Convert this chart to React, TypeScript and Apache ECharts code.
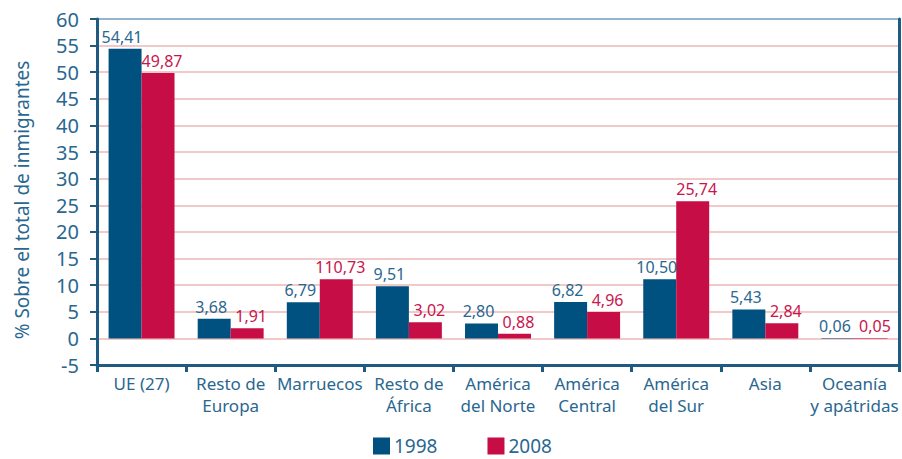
import React, { useEffect, useRef } from "react";
import * as echarts from "echarts";

const categories = [
  "UE (27)",
  "Resto de\nEuropa",
  "Marruecos",
  "Resto de\nÁfrica",
  "América\ndel Norte",
  "América\nCentral",
  "América\ndel Sur",
  "Asia",
  "Oceanía\ny apátridas",
];
const seriesNames = ["1998", "2008"];
// bar heights as drawn in the picture
const values1998 = [54.41, 3.68, 6.79, 9.8, 2.8, 6.82, 11.1, 5.43, 0.06];
const values2008 = [49.87, 1.91, 11.1, 3.02, 0.88, 4.96, 25.74, 2.84, 0.05];
// printed labels
const labels1998 = ["54,41", "3,68", "6,79", "9,51", "2,80", "6,82", "10,50", "5,43", "0,06"];
const labels2008 = ["49,87", "1,91", "110,73", "3,02", "0,88", "4,96", "25,74", "2,84", "0,05"];
const yTicks = { min: -5, max: 60, interval: 5 };

const BLUE = "#00517f";
const RED = "#c70d45";
const TEXT_BLUE = "#2a6790";
const FONT = "Noto Sans";

export default function App() {
  const ref = useRef<HTMLDivElement>(null);
  useEffect(() => {
    if (!ref.current) return;
    const chart = echarts.init(ref.current, undefined, { renderer: "svg" });
    const nLines = (yTicks.max - yTicks.min) / yTicks.interval + 1;
    const gridColors = Array.from({ length: nLines }, (_, i) =>
      i === nLines - 1 ? "#93b5d0" : "#f1c9c9"
    );
    chart.setOption({
      animation: false,
      textStyle: { fontFamily: FONT },
      grid: { left: 97, right: 3, top: 19, bottom: 94 },
      legend: {
        top: 434,
        left: 373,
        padding: 0,
        itemWidth: 17,
        itemHeight: 17,
        itemGap: 50,
        icon: "rect",
        textStyle: { fontSize: 19, lineHeight: 24, color: TEXT_BLUE, fontFamily: FONT, padding: [0, 0, 0, -1] },
        data: seriesNames,
      },
      xAxis: {
        type: "category",
        data: categories,
        axisLine: { onZero: false, lineStyle: { color: "#1f5a80", width: 3 } },
        axisTick: { show: true, length: 7, lineStyle: { color: "#1f5a80", width: 3 } },
        axisLabel: {
          color: TEXT_BLUE,
          fontSize: 17,
          lineHeight: 22,
          margin: 7,
          interval: 0,
          fontFamily: FONT,
        },
      },
      yAxis: [
        {
          type: "value",
          min: yTicks.min,
          max: yTicks.max,
          interval: yTicks.interval,
          name: "% Sobre el total de inmigrantes",
          nameLocation: "middle",
          nameGap: 66,
          nameTextStyle: { color: TEXT_BLUE, fontSize: 19, fontFamily: FONT, padding: [0, 16, 0, 0] },
          axisLine: { show: true, lineStyle: { color: "#1f5a80", width: 3 } },
          axisTick: { show: true, length: 7, lineStyle: { color: "#1f5a80", width: 2 } },
          axisLabel: { color: TEXT_BLUE, fontSize: 20, margin: 18, fontFamily: FONT },
          splitLine: { show: true, lineStyle: { color: gridColors, width: 2 } },
        },
        {
          type: "value",
          min: yTicks.min,
          max: yTicks.max,
          interval: yTicks.interval,
          position: "right",
          axisLine: { show: true, lineStyle: { color: "#1f5a80", width: 3 } },
          axisTick: { show: false },
          axisLabel: { show: false },
          splitLine: { show: false },
        },
      ],
      series: [
        {
          name: seriesNames[0],
          type: "bar",
          data: values1998,
          itemStyle: { color: BLUE },
          barGap: "0%",
          barCategoryGap: "26%",
          label: {
            show: true,
            position: "top",
            distance: 4,
            offset: [-3, 0],
            color: TEXT_BLUE,
            fontSize: 16,
            fontFamily: FONT,
            formatter: (p: any) => labels1998[p.dataIndex],
          },
        },
        {
          name: seriesNames[1],
          type: "bar",
          data: values2008,
          itemStyle: { color: RED },
          label: {
            show: true,
            position: "top",
            distance: 4,
            offset: [4, 0],
            color: "#c8154d",
            fontSize: 16,
            fontFamily: FONT,
            formatter: (p: any) => labels2008[p.dataIndex],
          },
        },
      ],
    });
    return () => chart.dispose();
  }, []);
  return <div ref={ref} style={{ width: 902, height: 459, position: "absolute", left: 0, top: 0, background: "#fff" }} />;
}
